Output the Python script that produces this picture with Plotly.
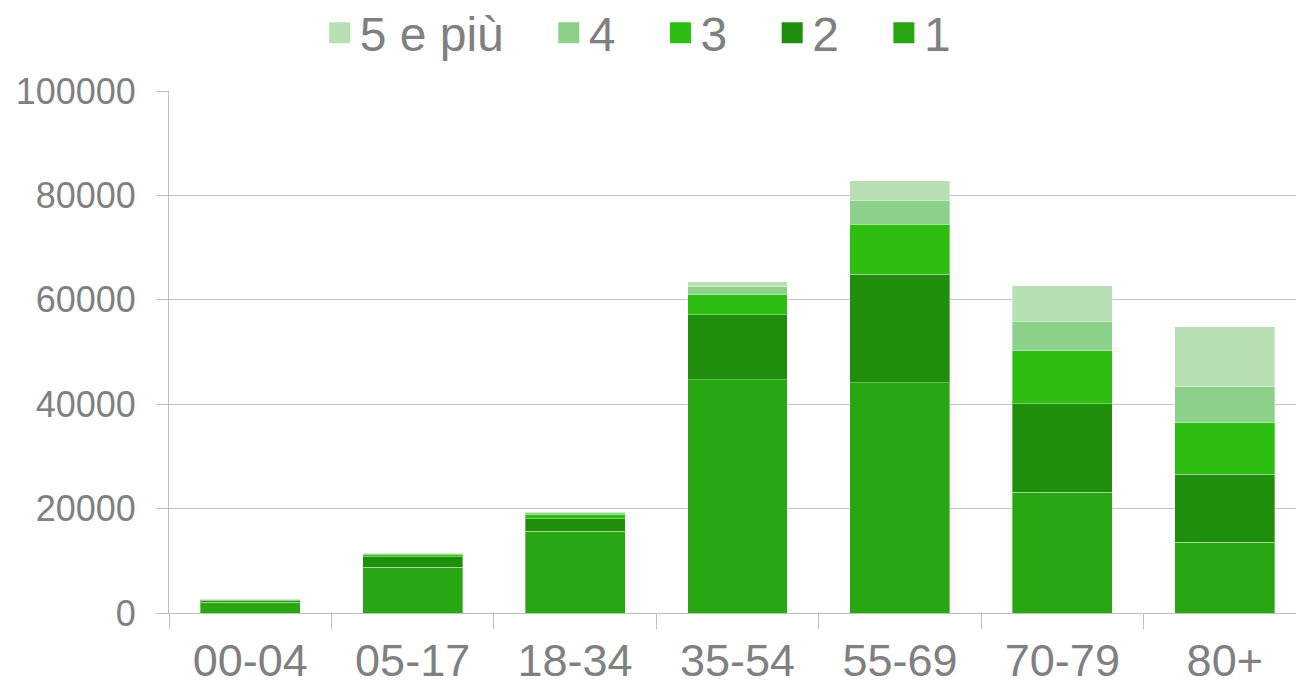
import plotly.graph_objects as go

categories = ["00-04", "05-17", "18-34", "35-54", "55-69", "70-79", "80+"]
series_names = ["1", "2", "3", "4", "5 e più"]
v1 = [2100, 8750, 15650, 44640, 44120, 23160, 13580]
v2 = [300, 2040, 2360, 12450, 20820, 16950, 12980]
v3 = [150, 450, 900, 3890, 9580, 10140, 9840]
v4 = [50, 120, 250, 1530, 4410, 5630, 6900]
v5 = [20, 60, 130, 960, 3890, 6820, 11550]
colors = ["#28A712", "#1F8E0B", "#2EBE12", "#8CD189", "#B9E0B5"]
y_ticks = [0, 20000, 40000, 60000, 80000, 100000]

grey = "#808080"
font_family = "Liberation Sans, Arial, sans-serif"
pad = "\u00a0\u00a0\u00a0"

fig = go.Figure()
for name, vals, col in zip(series_names, [v1, v2, v3, v4, v5], colors):
    fig.add_trace(go.Bar(
        x=categories, y=vals, name=name, showlegend=False, legendgroup=name,
        marker=dict(color=col, line=dict(color="rgba(255,255,255,0.35)", width=1)),
    ))
# legend-only entries with larger square swatches
for name, col in zip(series_names, colors):
    fig.add_trace(go.Scatter(
        x=[None], y=[None], mode="markers", name=name + pad, legendgroup=name,
        marker=dict(symbol="square", size=16, color=col,
                    line=dict(color=col, width=5)),
        showlegend=True,
    ))

fig.update_layout(
    width=1306, height=690,
    barmode="stack", bargap=0.385,
    paper_bgcolor="white", plot_bgcolor="white",
    margin=dict(l=169, r=0, t=91, b=77, autoexpand=False),
    font=dict(family=font_family, color=grey),
    legend=dict(
        orientation="h", traceorder="reversed",
        x=0.1325, xanchor="left", y=1.111, yanchor="middle",
        font=dict(size=48, color=grey, family=font_family),
        tracegroupgap=0, bgcolor="rgba(0,0,0,0)",
    ),
    showlegend=True,
)
fig.update_xaxes(
    type="category", tickson="boundaries", ticks="outside", ticklen=15,
    tickcolor="#BFBFBF", tickwidth=1,
    showline=True, linecolor="#BFBFBF", linewidth=1,
    showgrid=False, automargin=False,
    tickfont=dict(size=45, color=grey, family=font_family),
    ticklabelstandoff=8,
)
fig.update_yaxes(
    range=[0, 100000], tickvals=y_ticks, ticktext=[str(t) for t in y_ticks],
    ticks="outside", ticklen=12, tickcolor="#BFBFBF",
    showline=True, linecolor="#BFBFBF", linewidth=1,
    showgrid=True, gridcolor="#C4C4C4", gridwidth=1,
    zeroline=False, automargin=False,
    tickfont=dict(size=36, color=grey, family=font_family),
    ticklabelstandoff=13,
)
fig.write_html(
    "out.html",
    config={"displayModeBar": False},
    post_script="document.body.style.margin='0';document.body.style.overflow='hidden';",
)
